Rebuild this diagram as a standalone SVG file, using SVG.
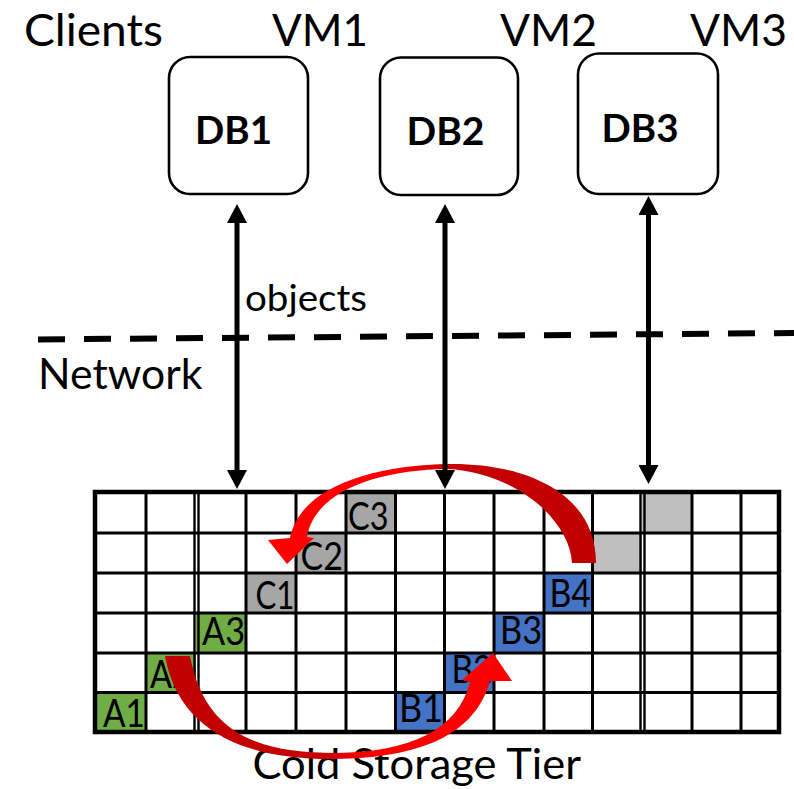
<svg xmlns="http://www.w3.org/2000/svg" width="794" height="789" viewBox="0 0 794 789">
<style>
.t{font-family:Lato,"Open Sans","Liberation Sans",sans-serif;fill:#000}
.big{font-size:45px}
.db{font-size:39px;font-weight:bold}
.cl{font-size:38px}
.box{fill:#fff;stroke:#000;stroke-width:2.6}
.ln{stroke:#000;stroke-width:3;fill:none}
.arw{stroke:#000;stroke-width:5;fill:none;marker-start:url(#ah);marker-end:url(#ah)}
.g{fill:#70ad47}.b{fill:#4472c4}.c{fill:#a6a6a6}.lg{fill:#bfbfbf}
</style>
<defs>
<marker id="ah" markerUnits="userSpaceOnUse" markerWidth="20" markerHeight="20" refX="1" refY="10" orient="auto-start-reverse" viewBox="0 0 19 20">
<path d="M0,0 L19,10 L0,20 Z" fill="#000"/>
</marker>
<linearGradient id="gTop" x1="1" y1="0" x2="0" y2="0">
<stop offset="0" stop-color="#c00000"/><stop offset="0.45" stop-color="#c80000"/><stop offset="0.6" stop-color="#ff0000"/><stop offset="1" stop-color="#ff0000"/>
</linearGradient>
<linearGradient id="gBot" x1="0" y1="0" x2="1" y2="0">
<stop offset="0" stop-color="#c00000"/><stop offset="0.45" stop-color="#c80000"/><stop offset="0.6" stop-color="#ff0000"/><stop offset="1" stop-color="#ff0000"/>
</linearGradient>
</defs>

<g id="labels-top">
<text class="t big" x="24" y="46" textLength="139" lengthAdjust="spacingAndGlyphs">Clients</text>
<text class="t big" x="272" y="45.5" textLength="96" lengthAdjust="spacingAndGlyphs">VM1</text>
<text class="t big" x="500" y="45.5" textLength="97" lengthAdjust="spacingAndGlyphs">VM2</text>
<text class="t big" x="690" y="45.5" textLength="97" lengthAdjust="spacingAndGlyphs">VM3</text>
</g>

<g id="DB1"><rect class="box" x="169" y="57" width="139" height="137" rx="21"/>
<text class="t db" x="195" y="143.5" textLength="77" lengthAdjust="spacingAndGlyphs">DB1</text></g>
<g id="DB2"><rect class="box" x="380" y="57.5" width="138" height="137.5" rx="21"/>
<text class="t db" x="406.5" y="144.5" textLength="78" lengthAdjust="spacingAndGlyphs">DB2</text></g>
<g id="DB3"><rect class="box" x="578" y="53.5" width="140" height="140.5" rx="21"/>
<text class="t db" x="601.5" y="142" textLength="77" lengthAdjust="spacingAndGlyphs">DB3</text></g>

<g id="network">
<line x1="38" y1="339.5" x2="794" y2="333" stroke="#000" stroke-width="6" stroke-dasharray="27 19"/>
<text class="t" style="font-size:42px" x="38" y="388.5" textLength="164.5" lengthAdjust="spacingAndGlyphs">Network</text>
</g>

<g id="storage">
<g id="cells">
<rect class="g" x="95" y="692.5" width="51" height="39.5"/>
<rect class="g" x="146" y="653" width="50" height="39.5"/>
<rect class="g" x="196" y="613" width="50" height="40"/>
<rect class="c" x="246" y="573" width="50" height="40"/>
<rect class="c" x="296" y="533" width="50" height="40"/>
<rect class="c" x="346" y="492" width="49.5" height="41"/>
<rect class="b" x="395.5" y="692.5" width="49" height="39.5"/>
<rect class="b" x="444.5" y="653" width="49.5" height="39.5"/>
<rect class="b" x="494" y="613" width="50" height="40"/>
<rect class="b" x="544" y="573" width="48.5" height="40"/>
<rect class="lg" x="592.5" y="533" width="49.5" height="40"/>
<rect class="lg" x="642" y="492" width="50" height="41"/>
</g>
<g id="gridlines">
<path class="ln" d="M146,492V732M246,492V732M296,492V732M346,492V732M395.5,492V732M444.5,492V732M494,492V732M544,492V732M592.5,492V732M692,492V732M741,492V732"/>
<path class="ln" style="stroke-width:2.4" d="M194.5,492V732M198.5,492V732M640.5,492V732M644.5,492V732"/>
<path class="ln" d="M95,533H779M95,573H779M95,613H779M95,653H779M95,692.5H779"/>
<rect x="95" y="492" width="684" height="240" fill="none" stroke="#000" stroke-width="4.5"/>
</g>
<g id="cell-labels" class="t cl">
<text x="103" y="727" textLength="42" lengthAdjust="spacingAndGlyphs">A1</text>
<text x="150" y="688" textLength="41" lengthAdjust="spacingAndGlyphs">A2</text>
<text x="202" y="645" textLength="43" lengthAdjust="spacingAndGlyphs">A3</text>
<text x="255.5" y="608.5" textLength="39" lengthAdjust="spacingAndGlyphs">C1</text>
<text x="300.5" y="570" textLength="42.5" lengthAdjust="spacingAndGlyphs">C2</text>
<text x="348" y="529.5" textLength="40.5" lengthAdjust="spacingAndGlyphs">C3</text>
<text x="399" y="722" textLength="44" lengthAdjust="spacingAndGlyphs">B1</text>
<text x="451.5" y="683" textLength="41" lengthAdjust="spacingAndGlyphs">B2</text>
<text x="500" y="643.5" textLength="42" lengthAdjust="spacingAndGlyphs">B3</text>
<text x="549.5" y="607" textLength="41.5" lengthAdjust="spacingAndGlyphs">B4</text>
</g>
<text class="t" style="font-size:42.5px" x="252.5" y="778.5" textLength="328.5" lengthAdjust="spacingAndGlyphs">Cold Storage Tier</text>
</g>

<g id="migration-arrows">
<path fill="url(#gTop)" d="M596,563 C596,490 520,462 445,464 C370,466 300,488 290,538 L268,540 L287,564 L314,538 L307,537 C315,490 380,470 447,469 C515,472 570,520 572,563 Z"/>
<path fill="url(#gBot)" d="M165,656 C180,740 260,760 335,759 C420,758 475,735 490,681 L512,681 L493,653 L462,680 L470,682 C458,730 410,752 336,753 C260,753 205,735 190,656 Z"/>
</g>

<g id="connectors">
<line class="arw" x1="237" y1="222" x2="237" y2="471"/>
<line class="arw" x1="445" y1="222" x2="445" y2="471"/>
<line class="arw" x1="648.5" y1="214" x2="648.5" y2="466"/>
<text class="t" style="font-size:36px" x="245" y="311" textLength="122" lengthAdjust="spacingAndGlyphs">objects</text>
</g>
</svg>
